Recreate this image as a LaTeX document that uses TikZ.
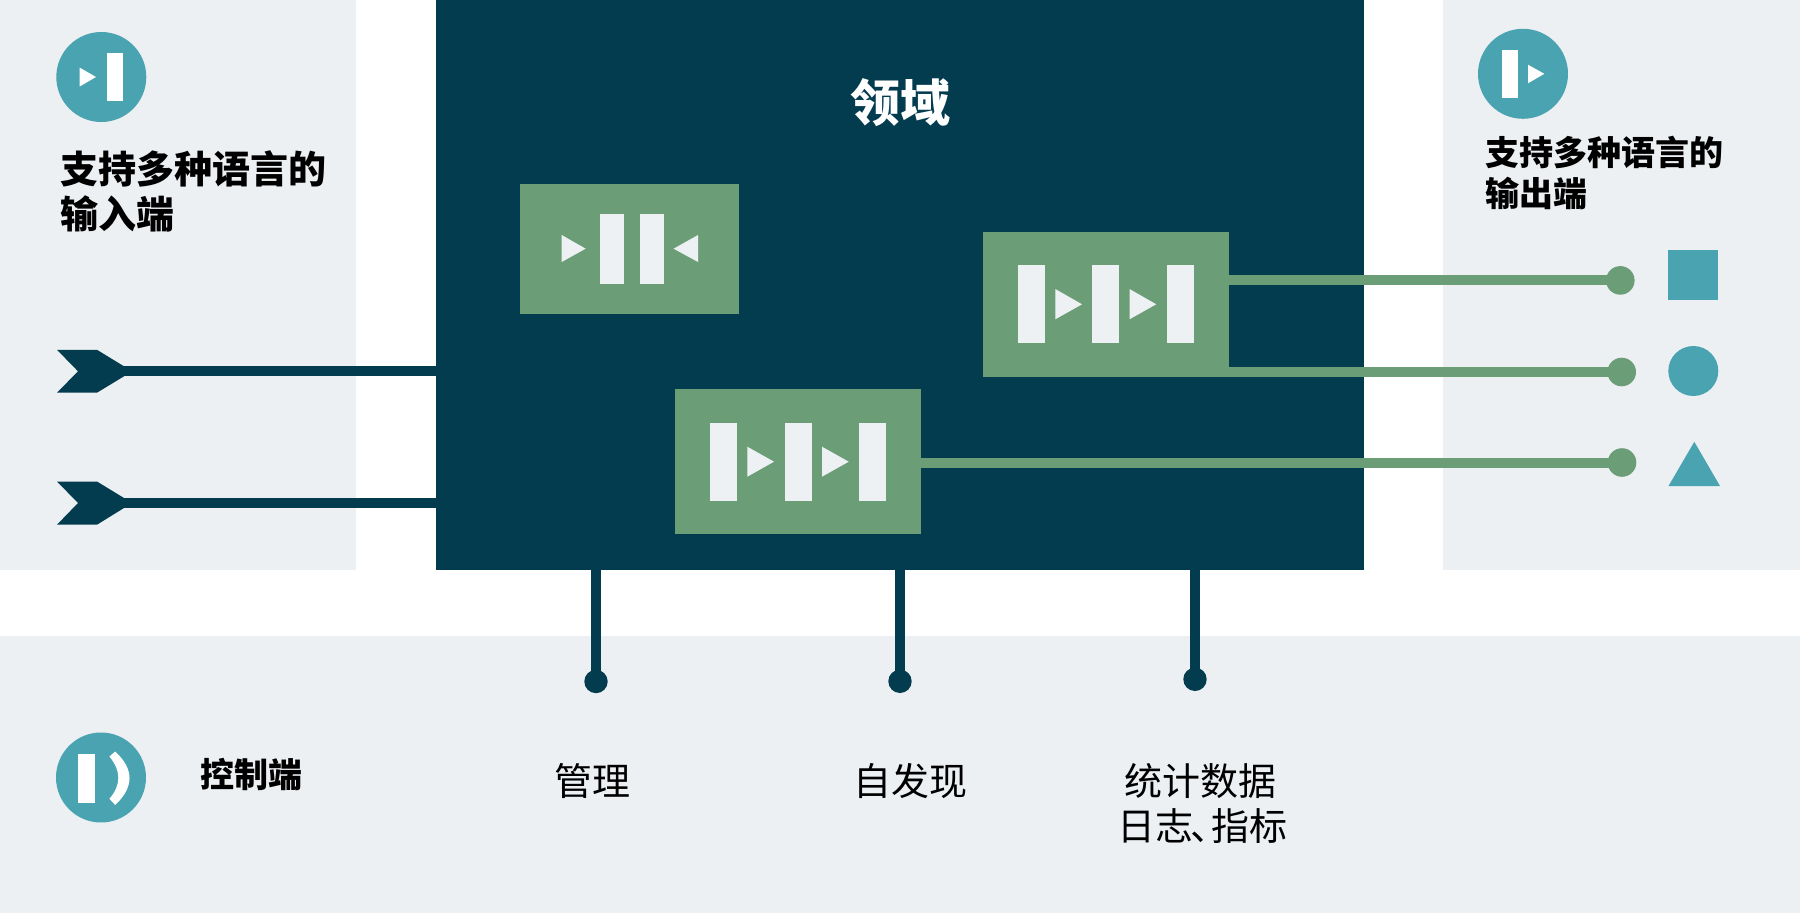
\documentclass[tikz,border=0pt]{standalone}
\usepackage{fontspec}
\setmainfont{Noto Sans CJK SC}
\definecolor{deep}{HTML}{023C4E}
\definecolor{leaf}{HTML}{6B9E77}
\definecolor{teal}{HTML}{4AA3B0}
\definecolor{mist}{HTML}{ECF0F3}
\definecolor{snow}{HTML}{EEF1F4}
\tikzset{
  panel/.style={fill=mist,draw=none,inner sep=0,outer sep=0},
  block/.style={rectangle,fill=#1,draw=none,inner sep=0,outer sep=0},
  disc/.style={circle,fill=#1,draw=none,inner sep=0,outer sep=0},
  bar/.style={rectangle,fill=snow,draw=none,inner sep=0,outer sep=0},
  ibar/.style={rectangle,fill=white,draw=none,inner sep=0,outer sep=0},
  dark line/.style={draw=deep,line width=10pt},
  leaf line/.style={draw=leaf,line width=10pt},
  headtext/.style={inner sep=0,outer sep=0,align=left,text=black,font=\bfseries\fontsize{#1}{#1}\selectfont},
  bodytext/.style={inner sep=0,outer sep=0,align=center,text=black,font=\fontsize{38}{45}\selectfont},
}
\begin{document}
\begin{tikzpicture}[x=1pt,y=-1pt]
\useasboundingbox (0,0) rectangle (1800,915);
\fill[white] (0,0) rectangle (1800,915);
% panels
\fill[panel] (0,0) rectangle (356,570);
\fill[panel] (1443,0) rectangle (1800,570);
\fill[panel] (0,636) rectangle (1800,912.7);
% domain
\node[block=deep,minimum width=927.2pt,minimum height=570pt] (domain) at (899.9,285) {};
\node[inner sep=0,text=white,font=\bfseries\fontsize{50}{50}\selectfont] (title) at (900,102.3) {领域};
% input arrows
\coordinate (a1) at (124,371.3);
\coordinate (a2) at (124,503);
\draw[dark line] (a1) -- (a1 -| domain.west);
\draw[dark line] (a2) -- (a2 -| domain.west);
\fill[deep] (57,349.8) -- (97,349.8) -- (124,366.3) -- (124,376.3) -- (97,392.7) -- (57,392.7) -- (78,371.3) -- cycle;
\fill[deep] (57,481.5) -- (97,481.5) -- (124,498) -- (124,508) -- (97,524.7) -- (57,524.7) -- (78,503) -- cycle;
% control lines
\node[disc=deep,minimum size=23.4pt] (d1) at (596,681.5) {};
\node[disc=deep,minimum size=23.4pt] (d2) at (900,681.3) {};
\node[disc=deep,minimum size=23.4pt] (d3) at (1195,679.3) {};
\draw[dark line] (d1.center) -- (d1 |- domain.south);
\draw[dark line] (d2.center) -- (d2 |- domain.south);
\draw[dark line] (d3.center) -- (d3 |- domain.south);
% green boxes
\node[block=leaf,minimum width=219.4pt,minimum height=130pt] (boxa) at (629.3,248.8) {};
\node[block=leaf,minimum width=245.5pt,minimum height=145pt] (boxb) at (1105.75,304.2) {};
\node[block=leaf,minimum width=245.8pt,minimum height=145pt] (boxc) at (798,461.5) {};
% box a contents
\node[bar,minimum width=23.9pt,minimum height=70pt] (a-b1) at (612.35,248.7) {};
\node[bar,minimum width=23.9pt,minimum height=70pt] (a-b2) at (652.3,248.7) {};
\fill[snow] (561.7,235) -- (585.6,248.7) -- (561.7,262) -- cycle;
\fill[snow] (698,235) -- (673.6,248.7) -- (698,262) -- cycle;
% box b contents
\node[bar,minimum width=26.8pt,minimum height=78pt] (b-b1) at (1031.4,304.3) {};
\node[bar,minimum width=26.8pt,minimum height=78pt] (b-b2) at (1105.8,304.3) {};
\node[bar,minimum width=26.8pt,minimum height=78pt] (b-b3) at (1180.2,304.3) {};
\fill[snow] (1055.3,289) -- (1082,304.3) -- (1055.3,319.3) -- cycle;
\fill[snow] (1129.5,289) -- (1156.2,304.3) -- (1129.5,319.3) -- cycle;
% box c contents
\node[bar,minimum width=26.8pt,minimum height=78pt] (c-b1) at (723.65,461.5) {};
\node[bar,minimum width=26.8pt,minimum height=78pt] (c-b2) at (798.2,461.5) {};
\node[bar,minimum width=26.8pt,minimum height=78pt] (c-b3) at (872.6,461.5) {};
\fill[snow] (747.3,446.7) -- (774,461.7) -- (747.3,476.7) -- cycle;
\fill[snow] (822,446.7) -- (848.7,461.7) -- (822,476.7) -- cycle;
% output lines
\node[disc=leaf,minimum size=28.6pt] (o1) at (1620.3,280.4) {};
\node[disc=leaf,minimum size=28.6pt] (o2) at (1621.7,372) {};
\node[disc=leaf,minimum size=28.6pt] (o3) at (1622,462.5) {};
\draw[leaf line] (o1.center) -- (o1 -| boxb.east);
\draw[leaf line] (o2.center) -- (o2 -| boxb.east);
\draw[leaf line] (o3.center) -- (o3 -| boxc.east);
% shapes at right
\node[block=teal,minimum width=50pt,minimum height=50pt] (sq) at (1693.3,274.7) {};
\node[disc=teal,minimum size=50pt] (ci) at (1693.3,371) {};
\fill[teal] (1668.5,486) -- (1720,486) -- (1694.3,441.8) -- cycle;
% input icon
\node[disc=teal,minimum size=90pt] (ic1) at (101.3,77) {};
\node[ibar,minimum width=16.6pt,minimum height=48.8pt] at (115,77.1) {};
\fill[white] (79.7,67.6) -- (96,77) -- (79.7,86.5) -- cycle;
% output icon
\node[disc=teal,minimum size=90pt] (ic2) at (1523,73.8) {};
\node[ibar,minimum width=16.6pt,minimum height=48.8pt] at (1510,74.1) {};
\fill[white] (1528,64.7) -- (1544.3,73.8) -- (1528,83.3) -- cycle;
% control icon
\node[disc=teal,minimum size=90pt] (ic3) at (101,777.5) {};
\node[ibar,minimum width=16.9pt,minimum height=49pt] at (86.2,778.3) {};
\fill[white] (115.2,751.5) .. controls (134.3,769.2) and (134.3,787) .. (115.2,805) -- (109.4,798.8) .. controls (121.3,785) and (121.3,770.9) .. (109.4,756.5) -- cycle;
% texts
\node[headtext=38,anchor=west,text width=280pt,font=\bfseries\fontsize{38}{45}\selectfont] (t1) at (60,191.5) {支持多种语言的\\输入端};
\node[headtext=34,anchor=west,text width=280pt,font=\bfseries\fontsize{34}{41}\selectfont] (t2) at (1485,172.5) {支持多种语言的\\输出端};
\node[headtext=34,anchor=center] (t3) at (251,775) {控制端};
\node[bodytext] (l1) at (592.7,781) {管理};
\node[bodytext] (l2) at (910.2,781) {自发现};
\node[bodytext] (l3) at (1200.7,803.5) {统计数据\\\mbox{}\hspace{3pt}日志\hspace{-0.08em}、\hspace{-0.45em}指标};
\end{tikzpicture}
\end{document}
